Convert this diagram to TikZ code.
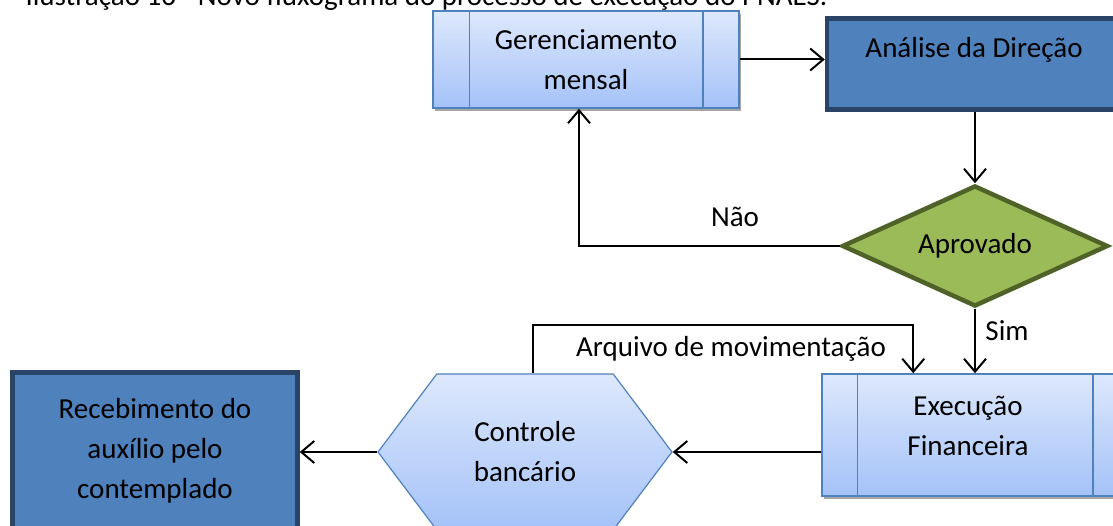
\documentclass[tikz,border=0pt]{standalone}
\usepackage{fontspec}
\setmainfont{Carlito}
\usetikzlibrary{shapes.geometric,shapes.symbols,shadows,arrows.meta}

\definecolor{boxtop}{HTML}{DDE8FC}
\definecolor{boxbot}{HTML}{A4C2F8}
\definecolor{boxline}{HTML}{4F81BD}
\definecolor{darkfill}{HTML}{4F81BD}
\definecolor{darkline}{HTML}{2A4468}
\definecolor{decfill}{HTML}{9BBB59}
\definecolor{decline}{HTML}{4F6228}

\begin{document}
\begin{tikzpicture}[x=1pt,y=-1pt,
    font=\fontsize{29}{40}\selectfont,
    proc/.style={draw=boxline,line width=1.5pt,top color=boxtop,bottom color=boxbot,
      minimum width=306pt,inner sep=0pt,align=center,
      drop shadow={shadow xshift=2pt,shadow yshift=-3pt,fill=black!35,opacity=1}},
    procline/.style={draw=boxline,line width=1.5pt},
    darkbox/.style={draw=darkline,line width=4.5pt,fill=darkfill,inner sep=0pt,align=center},
    decision/.style={diamond,aspect=2.14,draw=decline,line width=4.5pt,fill=decfill,
      minimum width=266pt,minimum height=121pt,inner sep=0pt},
    hexa/.style={signal,signal to=east and west,signal pointer angle=106,
      draw=boxline,line width=1.2pt,top color=boxtop,bottom color=boxbot,
      minimum width=294pt,minimum height=156pt,inner sep=0pt,align=center},
    arr/.style={line width=2pt,-{Straight Barb[length=13pt,width=22pt,line width=2pt]}}]
    \useasboundingbox (0,0) rectangle (1113,526);
    \clip (0,0) rectangle (1113,526);

    \node[anchor=base west] (cap) at (22,6) {Ilustração 16 - Novo fluxograma do processo de execução do PNAES.};

    \node[proc,minimum height=97pt] (ger) at (586,59.5) {Gerenciamento\\mensal};
    \draw[procline] ([xshift=37pt]ger.north west) -- ([xshift=37pt]ger.south west);
    \draw[procline] ([xshift=-37pt]ger.north east) -- ([xshift=-37pt]ger.south east);

    \node[darkbox,minimum width=300pt,minimum height=91pt] (dir) at (977,64) {};
    \node (dirtext) at (974,50) {Análise da Direção};

    \node[decision] (apr) at (975,246) {Aprovado};

    \node[proc,minimum height=122pt] (exe) at (975,435) {};
    \draw[procline] ([xshift=36pt]exe.north west) -- ([xshift=36pt]exe.south west);
    \draw[procline] ([xshift=-36pt]exe.north east) -- ([xshift=-36pt]exe.south east);
    \node[align=center] (exetext) at (968,426) {Execução\\Financeira};

    \node[hexa] (ctl) at (525,452) {Controle\\bancário};

    \node[darkbox,minimum width=285pt,minimum height=157pt] (rec) at (155,451) {Recebimento do\\auxílio pelo\\contemplado};

    \draw[arr] (ger.east) -- (dir.west |- ger.east);
    \draw[arr] (dir.south -| apr.north) -- (apr.north);
    \draw[arr] (apr.west) -| ([xshift=-7pt]ger.south);
    \node (nao) at (735,217) {Não};
    \draw[arr] (apr.south) -- (apr.south |- exe.north);
    \node (sim) at (1007,331) {Sim};
    \draw[arr] ([xshift=8pt]ctl.north) -- ++(0,-48) -| ([xshift=92pt]exe.north west);
    \node (arq) at (731,349) {Arquivo de movimentação};
    \draw[arr] (exe.west |- ctl.east) -- (ctl.east);
    \draw[arr] (ctl.west) -- (rec.east |- ctl.west);
\end{tikzpicture}
\end{document}
